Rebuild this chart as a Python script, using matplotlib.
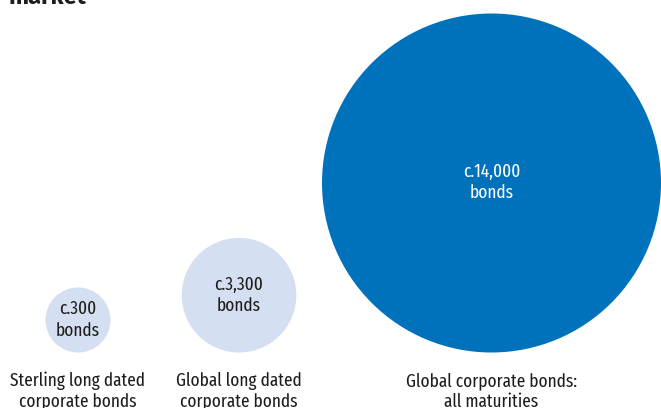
import matplotlib
matplotlib.use("Agg")
import matplotlib.pyplot as plt
from matplotlib.patches import Circle

# Bond universe sizes
categories = [
    "Sterling long dated\ncorporate bonds",
    "Global long dated\ncorporate bonds",
    "Global corporate bonds:\nall maturities",
]
bond_counts = [300, 3300, 14000]
count_labels = ["c.300", "c.3,300", "c.14,000"]
title_text = "market"

# Layout (pixel space) and styling
centre_x = [78, 239, 491.5]
radii = [32.5, 57.3, 169.5]
baseline_y = 352.5
line_gap = 21
fill_colours = ["#d4dff1", "#d4dff1", "#0071bb"]
text_colours = ["#1d1d1b", "#1d1d1b", "#ffffff"]

plt.rcParams["font.family"] = ["Fira Sans Extra Condensed", "DejaVu Sans"]

W, H = 661, 408
fig = plt.figure(figsize=(W / 100, H / 100), dpi=100)
ax = fig.add_axes([0, 0, 1, 1])
ax.set_xlim(0, W)
ax.set_ylim(H, 0)
ax.set_aspect("equal")
ax.axis("off")


def stacked_text(x, y0, text, colour, size):
    for i, line in enumerate(text.split("\n")):
        ax.text(x, y0 + i * line_gap, line, ha="center", va="baseline",
                color=colour, fontsize=size)


for cx, r, n, lab, cat, fc, tc in zip(centre_x, radii, bond_counts, count_labels,
                                      categories, fill_colours, text_colours):
    cy = baseline_y - r
    ax.add_patch(Circle((cx, cy), r, facecolor=fc, edgecolor="none"))
    stacked_text(cx, cy - 5.5, f"{lab}\nbonds", tc, 13.5)
    stacked_text(cx, 386, cat, "#1d1d1b", 13.5)

ax.text(9, 3.5, title_text, ha="left", va="baseline", fontsize=17,
        fontweight="bold", color="#1d1d1b", family=["Fira Sans", "DejaVu Sans"])

fig.savefig("out.png", dpi=100)
